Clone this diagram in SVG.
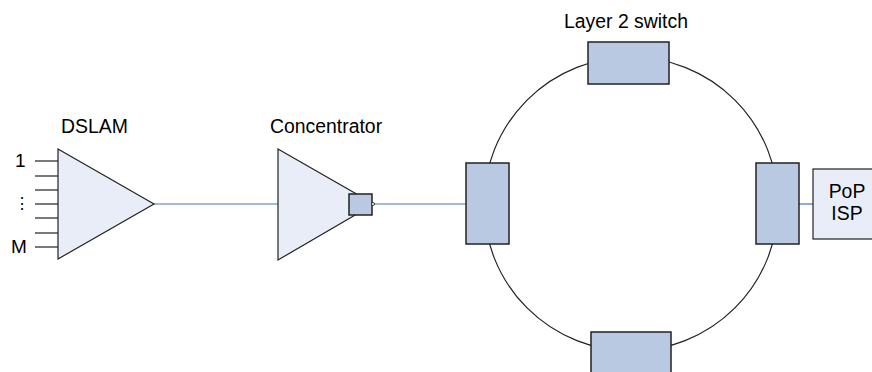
<svg xmlns="http://www.w3.org/2000/svg" width="872" height="372" viewBox="0 0 872 372">
<style>
text{font-family:"Liberation Sans",Arial,sans-serif;fill:#000;}
.lbl{font-size:19.4px;}
.tri{fill:#e8edf7;stroke:#222;stroke-width:1.2;}
.sw{fill:#b9c9e2;stroke:#222;stroke-width:1.5;}
.blue{stroke:#3f78c0;stroke-width:1.2;fill:none;}
.in{stroke:#222;stroke-width:1.2;}
</style>
<rect width="872" height="372" fill="#fff"/>
<g id="connectors">
<circle cx="631" cy="204" r="147" fill="none" stroke="#222" stroke-width="1.2"/>
<line class="blue" x1="154" y1="204" x2="278" y2="204"/>
<line class="blue" x1="372" y1="204" x2="466" y2="204"/>
<line class="blue" x1="799" y1="204" x2="813" y2="204"/>
</g>
<g id="dslam">
<g class="in">
<line x1="35" y1="161" x2="58" y2="161"/>
<line x1="35" y1="176" x2="58" y2="176"/>
<line x1="35" y1="190" x2="58" y2="190"/>
<line x1="35" y1="204" x2="58" y2="204"/>
<line x1="35" y1="218" x2="58" y2="218"/>
<line x1="35" y1="233" x2="58" y2="233"/>
<line x1="35" y1="247" x2="58" y2="247"/>
</g>
<polygon class="tri" points="58,149 154,204 58,259"/>
<text class="lbl" x="61" y="133">DSLAM</text>
<text x="15" y="167" font-size="19px">1</text>
<text x="14" y="209" font-size="16px">⋮</text>
<text x="11" y="253" font-size="19px">M</text>
</g>
<g id="concentrator">
<polygon class="tri" points="278,149 374,204 278,260"/>
<rect class="sw" x="349" y="194" width="23" height="21" stroke-width="1.2"/>
<circle cx="373" cy="204" r="1.5" fill="#fff" stroke="#222" stroke-width="0.8"/>
<text class="lbl" x="270" y="133">Concentrator</text>
</g>
<g id="switch-left"><rect class="sw" x="466" y="163" width="43" height="81"/></g>
<g id="switch-top">
<rect class="sw" x="588" y="42" width="81" height="42"/>
<text class="lbl" x="564" y="28">Layer 2 switch</text>
</g>
<g id="switch-right"><rect class="sw" x="756" y="163" width="43" height="81"/></g>
<g id="switch-bottom"><rect class="sw" x="591" y="332" width="80" height="42"/></g>
<g id="pop-isp">
<rect x="813" y="169" width="66" height="70" fill="#e8edf7" stroke="#222" stroke-width="1.2"/>
<text class="lbl" x="847" y="198" text-anchor="middle">PoP</text>
<text class="lbl" x="847" y="220" text-anchor="middle">ISP</text>
</g>
</svg>
